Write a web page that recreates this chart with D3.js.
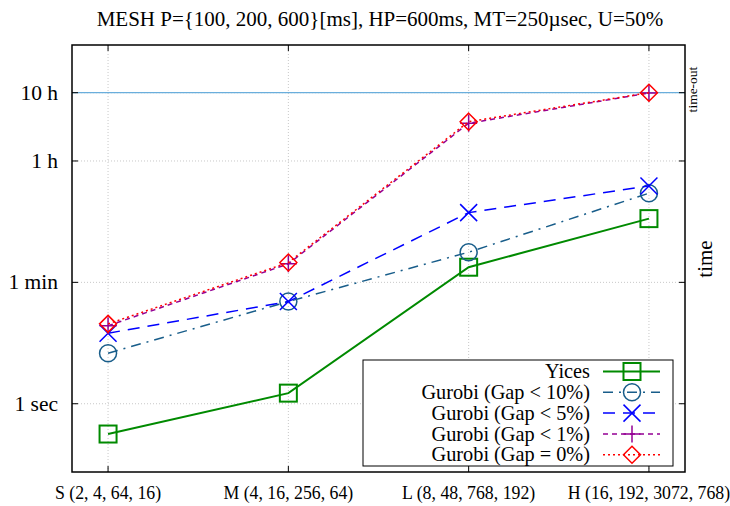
<!DOCTYPE html>
<head>
  <meta charset="utf-8">
  <script src="https://d3js.org/d3.v7.min.js"></script>
  <style>
  body,html {background:white; margin:0;}
  svg {display:block;}
  svg text {font-family:"Liberation Serif", "Times New Roman", serif;}
  </style>
</head>
<body>
<svg></svg>
<script>

  const width = 730;
  const height = 506;

  // data, seconds
  const categories = ["S (2, 4, 64, 16)", "M (4, 16, 256, 64)", "L (8, 48, 768, 192)", "H (16, 192, 3072, 768)"];
  const yices  = [0.36, 1.43, 100, 515];
  const gap10  = [5.5, 31.4, 166, 1213];
  const gap5   = [10.8, 31.4, 631, 1552];
  const gap1   = [13.9, 112, 12850, 35650];
  const gap0   = [14.8, 117, 13550, 36000];
  const yTicks = [1, 60, 3600, 36000];
  const yTickLabels = ["1 sec", "1 min", "1 h", "10 h"];
  const timeout = 36000;

  const series = [
    {name: "Yices", values: yices, color: "#008a00", dash: null, marker: "square", w: 2},
    {name: "Gurobi (Gap < 10%)", values: gap10, color: "#185d8a", dash: "10,6,2,6", marker: "circle", w: 1.5},
    {name: "Gurobi (Gap < 5%)", values: gap5, color: "#0000ff", dash: "12,8", marker: "cross", w: 1.5},
    {name: "Gurobi (Gap < 1%)", values: gap1, color: "#940094", dash: "5,4", marker: "plus", w: 1.5},
    {name: "Gurobi (Gap = 0%)", values: gap0, color: "#ff0000", dash: "2,3", marker: "diamond", w: 1.5}
  ];

  const L = 72, R = 685, T = 45, B = 472;

  let svg = d3.select("svg").attr("width", width).attr("height", height)
    .attr("font-family", "'Liberation Serif', 'Times New Roman', serif");

  let x = d3.scaleLinear().domain([-0.2, 3.2]).range([L, R]);
  let y = d3.scaleLog().domain([0.1, 180000]).range([B, T]);

  // grid
  let grid = svg.append("g").attr("stroke", "#c8c8c8").attr("stroke-dasharray", "1,2").attr("stroke-width", 1);
  categories.forEach((c, i) => {
    grid.append("line").attr("x1", x(i)).attr("x2", x(i)).attr("y1", T).attr("y2", B);
  });
  yTicks.forEach(v => {
    grid.append("line").attr("x1", L).attr("x2", R).attr("y1", y(v)).attr("y2", y(v));
  });

  // time-out line
  svg.append("line")
    .attr("x1", L).attr("x2", R).attr("y1", y(timeout)).attr("y2", y(timeout))
    .attr("stroke", "#6aaedc").attr("stroke-width", 1.3);

  // ticks, inward, mirrored
  let ticks = svg.append("g").attr("stroke", "black").attr("stroke-width", 1);
  categories.forEach((c, i) => {
    ticks.append("line").attr("x1", x(i)).attr("x2", x(i)).attr("y1", B).attr("y2", B - 6);
    ticks.append("line").attr("x1", x(i)).attr("x2", x(i)).attr("y1", T).attr("y2", T + 6);
  });
  yTicks.forEach(v => {
    ticks.append("line").attr("x1", L).attr("x2", L + 6).attr("y1", y(v)).attr("y2", y(v));
    ticks.append("line").attr("x1", R).attr("x2", R - 6).attr("y1", y(v)).attr("y2", y(v));
  });

  // labels
  svg.append("g").selectAll("text").data(yTicks).enter().append("text")
    .attr("x", L - 14).attr("y", d => y(d)).attr("dy", "0.33em")
    .attr("text-anchor", "end").attr("font-size", 21.5)
    .text((d, i) => yTickLabels[i]);

  svg.append("g").selectAll("text").data(categories).enter().append("text")
    .attr("x", (d, i) => x(i)).attr("y", 499)
    .attr("text-anchor", "middle").attr("font-size", 17.8)
    .text(d => d);

  svg.append("text").attr("x", 380).attr("y", 26).attr("text-anchor", "middle")
    .attr("font-size", 21).text("MESH P={100, 200, 600}[ms], HP=600ms, MT=250µsec, U=50%");

  svg.append("text").attr("transform", "translate(712,259) rotate(-90)")
    .attr("text-anchor", "middle").attr("font-size", 21).text("time");

  svg.append("text").attr("transform", "translate(697,89.5) rotate(-90)")
    .attr("text-anchor", "middle").attr("font-size", 13.5).text("time-out");

  function drawMarker(g, type, cx, cy, color) {
    const s = 8.5;
    if (type == "square") {
      g.append("rect").attr("x", cx - s).attr("y", cy - s).attr("width", 2 * s).attr("height", 2 * s)
        .attr("fill", "none").attr("stroke", color).attr("stroke-width", 2);
    } else if (type == "circle") {
      g.append("circle").attr("cx", cx).attr("cy", cy).attr("r", s)
        .attr("fill", "none").attr("stroke", color).attr("stroke-width", 1.5);
    } else if (type == "cross") {
      g.append("path").attr("d", `M${cx - s},${cy - s}L${cx + s},${cy + s}M${cx - s},${cy + s}L${cx + s},${cy - s}`)
        .attr("stroke", color).attr("stroke-width", 1.5);
    } else if (type == "plus") {
      g.append("path").attr("d", `M${cx - s},${cy}L${cx + s},${cy}M${cx},${cy - s}L${cx},${cy + s}`)
        .attr("stroke", color).attr("stroke-width", 1.5);
    } else if (type == "diamond") {
      g.append("path").attr("d", `M${cx},${cy - s}L${cx + s},${cy}L${cx},${cy + s}L${cx - s},${cy}Z`)
        .attr("fill", "none").attr("stroke", color).attr("stroke-width", 1.5);
    }
  }

  let line = d3.line().x((d, i) => x(i)).y(d => y(d));

  series.forEach(s => {
    let g = svg.append("g");
    g.append("path").datum(s.values).attr("d", line)
      .attr("fill", "none").attr("stroke", s.color).attr("stroke-width", s.w)
      .attr("stroke-dasharray", s.dash);
    s.values.forEach((v, i) => drawMarker(g, s.marker, x(i), y(v), s.color));
  });

  // legend
  let lg = svg.append("g");
  lg.append("rect").attr("x", 363).attr("y", 360).attr("width", 310).attr("height", 106)
    .attr("fill", "white").attr("stroke", "black").attr("stroke-width", 1);
  series.forEach((s, i) => {
    const ly = 371.5 + i * 20.8;
    lg.append("text").attr("x", 590).attr("y", ly).attr("dy", "0.33em")
      .attr("text-anchor", "end").attr("font-size", 20.3).text(s.name);
    lg.append("line").attr("x1", 603).attr("x2", 660).attr("y1", ly).attr("y2", ly)
      .attr("stroke", s.color).attr("stroke-width", s.w).attr("stroke-dasharray", s.dash);
    drawMarker(lg, s.marker, 632, ly, s.color);
  });

  // frame
  svg.append("rect").attr("x", L).attr("y", T).attr("width", R - L).attr("height", B - T)
    .attr("fill", "none").attr("stroke", "black").attr("stroke-width", 1.5);

</script>
</body>
